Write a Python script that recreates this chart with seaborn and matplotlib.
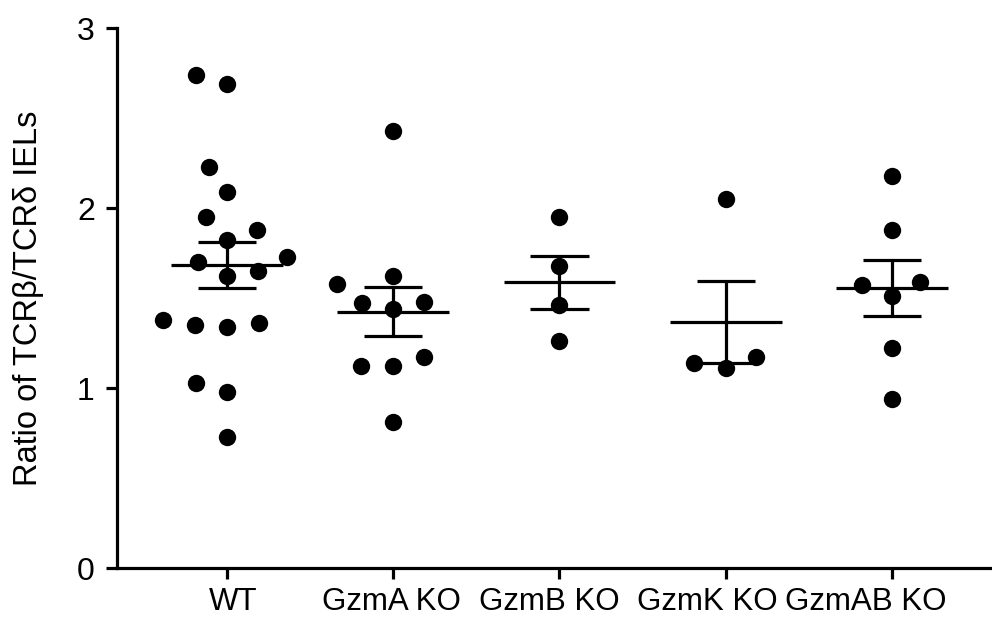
import numpy as np
import pandas as pd
import matplotlib
matplotlib.use("Agg")
import matplotlib.pyplot as plt
import seaborn as sns

categories = ["WT", "GzmA KO", "GzmB KO", "GzmK KO", "GzmAB KO"]
wt = [2.74, 2.69, 2.23, 2.09, 1.95, 1.88, 1.82, 1.70, 1.73, 1.62, 1.65,
      1.38, 1.35, 1.36, 1.34, 1.03, 0.98, 0.73]
gzma = [2.43, 1.62, 1.58, 1.44, 1.48, 1.47, 1.17, 1.12, 1.12, 0.81]
gzmb = [1.95, 1.68, 1.46, 1.26]
gzmk = [2.05, 1.17, 1.11, 1.14]
gzmab = [2.18, 1.88, 1.57, 1.59, 1.51, 1.22, 0.94]
y_ticks = [0, 1, 2, 3]
y_label = "Ratio of TCRβ/TCRδ IELs"

groups = [wt, gzma, gzmb, gzmk, gzmab]
df = pd.DataFrame({
    "group": np.repeat(categories, [len(g) for g in groups]),
    "value": np.concatenate(groups),
})

sns.set_theme(style="ticks")
plt.rcParams["font.family"] = ["Liberation Sans", "DejaVu Sans"]
plt.rcParams["text.color"] = "black"

fig = plt.figure(figsize=(9.92, 6.22), dpi=100)
ax = fig.add_axes([117 / 992, 1 - 568 / 622, 1 - 117 / 992, (568 - 28) / 622])

# swarm laid out with a wider spacing (like the column scatter of the original),
# then the dots are drawn at their real size
sns.swarmplot(data=df, x="group", y="value", order=categories, color="black",
              size=22, ax=ax, zorder=3, clip_on=False)

stats = df.groupby("group", sort=False)["value"].agg(["mean", "sem"]).reindex(categories)
xs = np.arange(len(categories))
lw = 2.3
ax.hlines(stats["mean"], xs - 0.335, xs + 0.335, color="black", lw=lw, zorder=4)
ax.vlines(xs, stats["mean"] - stats["sem"], stats["mean"] + stats["sem"],
          color="black", lw=lw, zorder=4)
ax.hlines(stats["mean"] + stats["sem"], xs - 0.175, xs + 0.175, color="black", lw=lw, zorder=4)
ax.hlines(stats["mean"] - stats["sem"], xs - 0.175, xs + 0.175, color="black", lw=lw, zorder=4)

ax.set_xlim(-0.66, 4.6)
ax.set_ylim(0, 3)
ax.set_yticks(y_ticks)
ax.set_yticklabels([str(t) for t in y_ticks], fontsize=23)
ax.set_xticks(xs)
ax.set_xticklabels([])
for i, c in enumerate(categories):
    ax.text(0.04 + 0.95 * i, -0.105, c, ha="center", va="top", fontsize=22.5,
            color="black", transform=ax.transData)
ax.set_xlabel("")
ax.set_ylabel(y_label, fontsize=23.5, labelpad=24, color="black")

sns.despine(ax=ax)
for s in ["left", "bottom"]:
    ax.spines[s].set_linewidth(lw)
    ax.spines[s].set_color("black")
ax.tick_params(axis="both", width=lw, length=8, color="black", labelcolor="black")
ax.tick_params(axis="y", pad=8)

fig.canvas.draw()
for coll in ax.collections:
    if "draw" in coll.__dict__:
        del coll.draw
        coll.set_sizes([12.5 ** 2])

fig.savefig("out.png", dpi=100, facecolor="white")
